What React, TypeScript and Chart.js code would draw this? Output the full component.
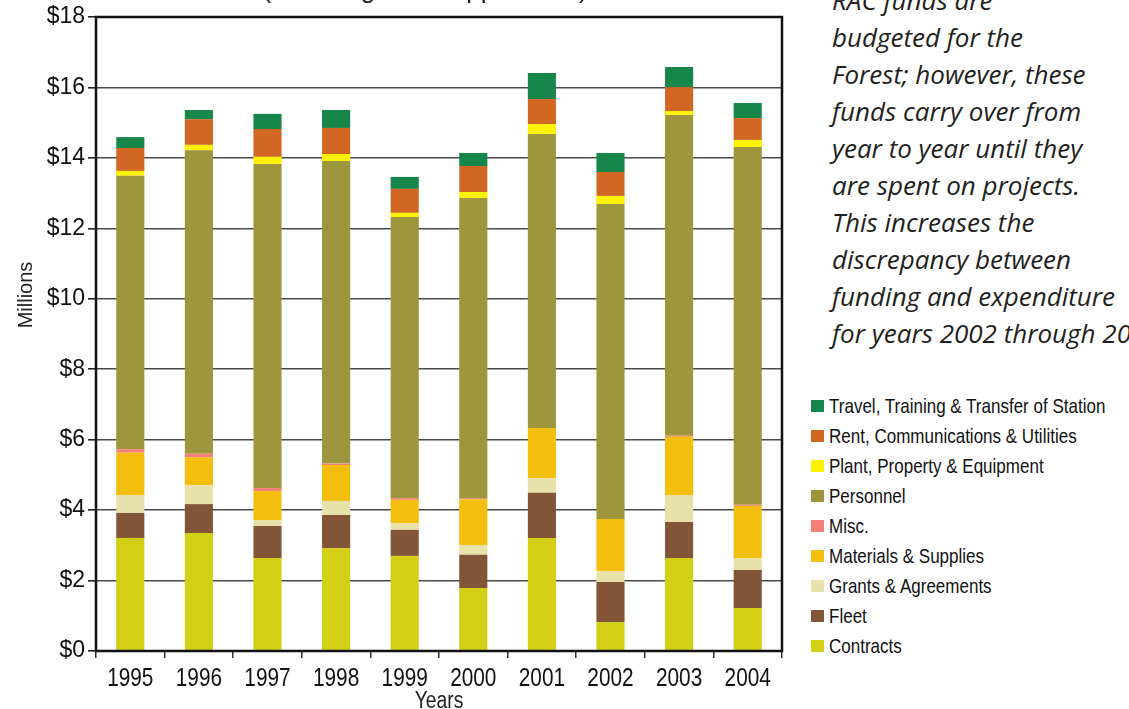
import React, { useEffect, useRef } from "react";
import { Chart, registerables } from "chart.js";

Chart.register(...registerables);

const years = ["1995", "1996", "1997", "1998", "1999", "2000", "2001", "2002", "2003", "2004"];

const contracts = [3.21, 3.35, 2.64, 2.92, 2.7, 1.79, 3.21, 0.82, 2.64, 1.22];
const fleet = [0.71, 0.82, 0.91, 0.94, 0.74, 0.94, 1.28, 1.14, 1.02, 1.08];
const grants = [0.51, 0.54, 0.17, 0.4, 0.19, 0.28, 0.42, 0.31, 0.77, 0.34];
const materials = [1.2, 0.79, 0.82, 1.02, 0.66, 1.3, 1.42, 1.48, 1.65, 1.48];
const misc = [0.1, 0.1, 0.09, 0.04, 0.05, 0.03, 0, 0, 0.03, 0.03];
const personnel = [7.76, 8.62, 9.2, 8.59, 7.98, 8.52, 8.35, 8.94, 9.11, 10.16];
const plant = [0.14, 0.15, 0.2, 0.2, 0.12, 0.17, 0.28, 0.23, 0.11, 0.2];
const rent = [0.65, 0.73, 0.79, 0.74, 0.68, 0.74, 0.71, 0.68, 0.68, 0.62];
const travel = [0.31, 0.26, 0.43, 0.51, 0.34, 0.37, 0.74, 0.54, 0.57, 0.43];

const seriesNames = [
  "Contracts",
  "Fleet",
  "Grants & Agreements",
  "Materials & Supplies",
  "Misc.",
  "Personnel",
  "Plant, Property & Equipment",
  "Rent, Communications & Utilities",
  "Travel, Training & Transfer of Station",
];
const seriesValues = [contracts, fleet, grants, materials, misc, personnel, plant, rent, travel];
const seriesColors = [
  "#D2CF14",
  "#835537",
  "#E7E1AA",
  "#F3BF0C",
  "#F48078",
  "#9E963C",
  "#FFF200",
  "#D26724",
  "#17864A",
];

const yMin = 0;
const yMax = 18;
const yStep = 2;

const titleText = "(Including Fire Suppression)";
const yTitle = "Millions";
const xTitle = "Years";

const noteLines = [
  "RAC funds are",
  "budgeted for the",
  "Forest; however, these",
  "funds carry over from",
  "year to year until they",
  "are spent on projects.",
  "This increases the",
  "discrepancy between",
  "funding and expenditure",
  "for years 2002 through 20",
];

const REG = "'Liberation Sans', Arial, sans-serif";

const framePlugin = {
  id: "frame",
  afterDatasetsDraw(chart: any) {
    const { ctx, chartArea } = chart;
    ctx.save();
    ctx.strokeStyle = "#111";
    ctx.lineWidth = 2.5;
    ctx.strokeRect(chartArea.left, chartArea.top, chartArea.right - chartArea.left, chartArea.bottom - chartArea.top);
    ctx.restore();
  },
};

// condensed x labels and x title, positioned by the category scale
const xLabelPlugin = {
  id: "xLabels",
  afterDraw(chart: any) {
    const { ctx, chartArea } = chart;
    const xs = chart.scales.x;
    ctx.save();
    ctx.fillStyle = "#111";
    ctx.textAlign = "center";
    ctx.textBaseline = "alphabetic";
    ctx.font = "26px " + REG;
    (chart.data.labels as string[]).forEach((lab, i) => {
      const x = xs.getPixelForValue(i);
      ctx.save();
      ctx.translate(x, chartArea.bottom + 35);
      ctx.scale(0.8, 1);
      ctx.fillText(lab, 0, 0);
      ctx.restore();
    });
    ctx.font = "23px " + REG;
    ctx.fillStyle = "#222";
    ctx.save();
    ctx.translate((chartArea.left + chartArea.right) / 2, chartArea.bottom + 57);
    ctx.scale(0.84, 1);
    ctx.fillText(xTitle, 0, 0);
    ctx.restore();
    ctx.restore();
  },
};

export default function App() {
  const ref = useRef<HTMLCanvasElement | null>(null);

  useEffect(() => {
    document.body.style.margin = "0";
    if (!ref.current) return;
    const chart = new Chart(ref.current, {
      type: "bar",
      data: {
        labels: years,
        datasets: seriesNames.map((name, i) => ({
          label: name,
          data: seriesValues[i],
          backgroundColor: seriesColors[i],
          borderWidth: 0,
          barPercentage: 0.41,
          categoryPercentage: 1,
        })),
      },
      options: {
        responsive: false,
        animation: false,
        layout: { padding: { top: 17, right: 18, left: 0, bottom: 0 } },
        plugins: {
          legend: { display: false },
          tooltip: { enabled: false },
          title: { display: false },
        },
        scales: {
          x: {
            stacked: true,
            offset: true,
            grid: {
              offset: true,
              drawOnChartArea: false,
              drawTicks: true,
              tickLength: 7,
              color: "#333",
              lineWidth: 1.5,
            },
            border: { display: true, color: "#111", width: 2 },
            ticks: { display: false },
            afterFit: (scale: any) => {
              scale.height = 58;
            },
          },
          y: {
            stacked: true,
            min: yMin,
            max: yMax,
            grid: {
              color: "#4a4a4a",
              lineWidth: 1.6,
              tickLength: 8,
              tickColor: "#222",
            },
            border: { display: true, color: "#111", width: 2 },
            ticks: {
              stepSize: yStep,
              color: "#111",
              padding: 3,
              font: { family: REG, size: 23 },
              callback: (v: any) => "$" + v,
            },
            afterFit: (scale: any) => {
              scale.width = 96;
            },
          },
        },
      },
      plugins: [framePlugin, xLabelPlugin],
    });
    return () => chart.destroy();
  }, []);

  const legendOrder = seriesNames.map((_, i) => i).reverse();

  return (
    <div
      style={{
        position: "fixed",
        left: 0,
        top: 0,
        width: 1129,
        height: 709,
        overflow: "hidden",
        background: "#fff",
      }}
    >
      <canvas ref={ref} width={800} height={709} style={{ position: "absolute", left: 0, top: 0 }} />
      <div
        style={{
          position: "absolute",
          left: 225,
          width: 400,
          top: -24,
          height: 26,
          lineHeight: "26px",
          textAlign: "center",
          fontFamily: REG,
          fontSize: 26,
          color: "#222",
          whiteSpace: "nowrap",
        }}
      >
        {titleText}
      </div>
      <div
        style={{
          position: "absolute",
          left: 25 - 60,
          top: 295 - 12,
          width: 120,
          height: 24,
          lineHeight: "24px",
          textAlign: "center",
          transform: "rotate(-90deg)",
          fontFamily: REG,
          fontSize: 20,
          color: "#222",
        }}
      >
        {yTitle}
      </div>
      <div
        style={{
          position: "absolute",
          left: 832,
          top: -18,
          fontFamily: "'Open Sans', sans-serif",
          fontStyle: "italic",
          fontSize: 26,
          lineHeight: "37px",
          color: "#231f20",
          whiteSpace: "nowrap",
        }}
      >
        {noteLines.map((l, i) => (
          <div key={i}>{l}</div>
        ))}
      </div>
      <div style={{ position: "absolute", left: 811, top: 391 }}>
        {legendOrder.map((i) => (
          <div
            key={i}
            style={{ display: "flex", alignItems: "center", height: 30, whiteSpace: "nowrap" }}
          >
            <span
              style={{
                display: "inline-block",
                width: 13,
                height: 12,
                background: seriesColors[i],
                marginRight: 5,
                flex: "none",
              }}
            />
            <span
              style={{
                display: "inline-block",
                fontFamily: REG,
                fontSize: 21,
                color: "#111",
                transform: "scaleX(0.81)",
                transformOrigin: "left center",
              }}
            >
              {seriesNames[i]}
            </span>
          </div>
        ))}
      </div>
    </div>
  );
}
